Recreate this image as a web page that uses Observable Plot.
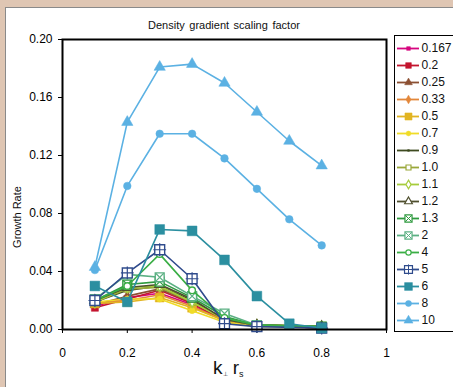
<!DOCTYPE html>
<html>
<head>
<meta charset="utf-8">
<script src="https://cdn.jsdelivr.net/npm/d3@7"></script>
<script src="https://cdn.jsdelivr.net/npm/@observablehq/plot@0.6"></script>
<style>
  body { margin:0; background:#dfc6b3; font-family:"Liberation Sans", Arial, sans-serif; }
  #wrap { position:relative; width:453px; height:387px; overflow:hidden; }
  #panel { position:absolute; left:5px; top:7px; width:448px; height:380px; background:#fff; border-left:1px solid #8a8a8a; border-top:1px solid #8a8a8a; box-sizing:border-box; }
  #chart { position:absolute; left:0; top:0; width:453px; height:387px; }
  #title { position:absolute; left:62px; width:324px; top:19px; text-align:center; font-size:11px; word-spacing:1.5px; color:#111; }
  #ylab { position:absolute; left:17px; top:217px; transform:translate(-50%,-50%) rotate(-90deg); font-size:11px; white-space:nowrap; color:#111; }
  #xlab { position:absolute; left:213px; top:357px; font-size:19px; color:#111; white-space:nowrap; }
  #xlab sub { font-size:9px; vertical-align:-3px; }
  #xlab sub.perp { font-size:6px; vertical-align:-2px; }
  #legend { position:absolute; left:394px; top:35px; width:70px; height:297px; border:1px solid #000; box-sizing:border-box; background:#fff; }
</style>
</head>
<body>
<div id="wrap">
  <div id="panel"></div>
  <div id="chart"></div>
  <div id="title">Density gradient scaling factor</div>
  <div id="ylab">Growth Rate</div>
  <div id="xlab">k<sub class="perp">⊥</sub> r<sub>s</sub></div>
  <div id="legend"></div>
</div>
<script>
// ---- data ----
const xValues = [0.1, 0.2, 0.3, 0.4, 0.5, 0.6, 0.7, 0.8];
const seriesNames = ["0.167","0.2","0.25","0.33","0.5","0.7","0.9","1.0","1.1","1.2","1.3","2","4","5","6","8","10"];
const g0167 = [0.016, 0.022, 0.025, 0.017, 0.006, 0.003, null, 0.001];
const g02   = [0.015, 0.021, 0.027, 0.018, 0.006, 0.003, null, 0.001];
const g025  = [0.017, 0.023, 0.028, 0.019, 0.007, 0.003, null, 0.002];
const g033  = [0.018, 0.020, 0.024, 0.016, 0.006, 0.003, null, 0.002];
const g05   = [0.018, 0.019, 0.022, 0.015, 0.006, 0.003, null, 0.002];
const g07   = [0.019, 0.021, 0.021, 0.013, 0.005, 0.002, null, 0.002];
const g09   = [0.019, 0.027, 0.030, 0.020, 0.007, 0.003, null, 0.002];
const g10   = [0.019, 0.028, 0.029, 0.019, 0.007, 0.003, null, 0.002];
const g11   = [0.019, 0.029, 0.030, 0.019, 0.007, 0.003, null, 0.002];
const g12   = [0.020, 0.029, 0.031, 0.021, 0.007, 0.003, null, 0.002];
const g13   = [0.020, 0.031, 0.033, 0.022, 0.009, 0.003, null, 0.002];
const g2    = [0.021, 0.038, 0.036, 0.023, 0.011, 0.003, null, 0.001];
const g4    = [0.020, 0.030, 0.052, 0.027, 0.008, 0.003, null, 0.002];
const g5    = [0.020, 0.039, 0.055, 0.035, 0.004, 0.002, null, 0.001];
const g6    = [0.030, 0.019, 0.069, 0.068, 0.048, 0.023, 0.004, 0.001];
const g8    = [0.041, 0.099, 0.135, 0.135, 0.118, 0.097, 0.076, 0.058];
const g10b  = [0.043, 0.143, 0.181, 0.183, 0.170, 0.150, 0.130, 0.113];
const yTicks = [0, 0.04, 0.08, 0.12, 0.16, 0.20];
const xTicks = [0, 0.2, 0.4, 0.6, 0.8, 1];

const seriesValues = [g0167, g02, g025, g033, g05, g07, g09, g10, g11, g12, g13, g2, g4, g5, g6, g8, g10b];

// ---- styles ----
const styles = {
  "0.167": {c:"#d6067f", sym:"square",   r:2.6, fill:true},
  "0.2":   {c:"#c4152e", sym:"square",   r:4,   fill:true},
  "0.25":  {c:"#8c5032", sym:"triangle", r:3.6, fill:true},
  "0.33":  {c:"#e3873a", sym:"diamond",  r:3.3, fill:true},
  "0.5":   {c:"#e2b422", sym:"square",   r:5,   fill:true},
  "0.7":   {c:"#f0dc28", sym:"circle",   r:3,   fill:true},
  "0.9":   {c:"#3e4a20", sym:"square",   r:1.2, fill:true},
  "1.0":   {c:"#9aa83a", sym:"square",   r:3.5, fill:false},
  "1.1":   {c:"#a6cc3c", sym:"diamond",  r:3.3, fill:false},
  "1.2":   {c:"#4f4f2e", sym:"triangle", r:3.6, fill:false},
  "1.3":   {c:"#2f9a3f", sym:"square",   r:5,   fill:false, over:"times"},
  "2":     {c:"#5bb083", sym:"square",   r:5,   fill:false, over:"times"},
  "4":     {c:"#3aae45", sym:"circle",   r:3.3, fill:false},
  "5":     {c:"#2f4b8c", sym:"square",   r:5.6, fill:false, over:"plus"},
  "6":     {c:"#2b8fa0", sym:"square",   r:5.5, fill:true},
  "8":     {c:"#5bb1e3", sym:"circle",   r:3.8, fill:true},
  "10":    {c:"#5bb1e3", sym:"triangle", r:4.2, fill:true}
};

const rows = [];
seriesNames.forEach((name, i) => {
  seriesValues[i].forEach((v, j) => {
    if (v != null) rows.push({series: name, x: xValues[j], y: v});
  });
});

const marks = [];
seriesNames.forEach(name => {
  const s = styles[name];
  const data = rows.filter(d => d.series === name);
  marks.push(Plot.line(data, {x:"x", y:"y", stroke:s.c, strokeWidth:1.6}));
  marks.push(Plot.dot(data, {x:"x", y:"y", symbol:s.sym, r:s.r,
    fill: s.fill ? s.c : "#fff", stroke: s.c, strokeWidth: s.fill ? 0.5 : 1.4}));
  if (s.over) marks.push(Plot.dot(data, {x:"x", y:"y", symbol:s.over, r:s.r*0.75, stroke:s.c, strokeWidth:1.2}));
});
marks.push(Plot.frame({stroke:"#000", strokeWidth:2}));

const chart = Plot.plot({
  width: 453, height: 387,
  marginLeft: 62, marginRight: 67, marginTop: 39, marginBottom: 58,
  style: {background:"transparent", fontFamily:"Liberation Sans, Arial, sans-serif", fontSize:"12px", color:"#000", overflow:"visible"},
  x: {domain:[0,1], ticks:xTicks, tickFormat: d => d === 0 ? "0" : d === 1 ? "1" : d.toFixed(1), tickSize:4, tickPadding:15, label:null},
  y: {domain:[0,0.2], ticks:yTicks, tickFormat: d => d.toFixed(2), tickSize:4, tickPadding:6, label:null},
  marks
});
document.getElementById("chart").appendChild(chart);

// ---- legend ----
const legendRows = seriesNames.map(name => ({series: name}));
const lmarks = [];
seriesNames.forEach(name => {
  const s = styles[name];
  const d = [{series:name}];
  lmarks.push(Plot.ruleY(d, {y:"series", x1:0, x2:1, stroke:s.c, strokeWidth:1.8}));
  lmarks.push(Plot.dot(d, {x:0.5, y:"series", symbol:s.sym, r:s.r*0.8,
    fill: s.fill ? s.c : "#fff", stroke:s.c, strokeWidth: s.fill ? 0.5 : 1.2}));
  if (s.over) lmarks.push(Plot.dot(d, {x:0.5, y:"series", symbol:s.over, r:s.r*0.6, stroke:s.c, strokeWidth:1}));
});
lmarks.push(Plot.text(legendRows, {x:1, y:"series", text:"series", textAnchor:"start", dx:2, fill:"#111"}));
const legend = Plot.plot({
  width: 68, height: 295,
  marginLeft: 2, marginRight: 44, marginTop: 9, marginBottom: 9,
  style: {background:"transparent", fontFamily:"Liberation Sans, Arial, sans-serif", fontSize:"12px", overflow:"visible"},
  x: {domain:[0,1], axis:null},
  y: {type:"point", domain:seriesNames, padding:0, axis:null},
  marks: lmarks
});
document.getElementById("legend").appendChild(legend);
</script>
</body>
</html>
